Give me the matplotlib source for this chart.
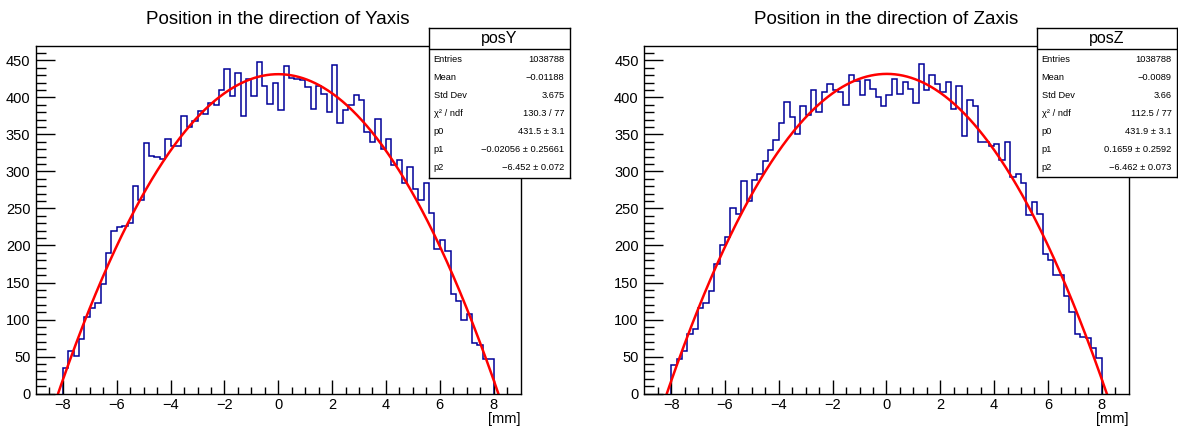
import matplotlib
matplotlib.use("Agg")
import matplotlib.pyplot as plt
import numpy as np

# Histogram binning: 80 bins of 0.2 mm between -8 and 8 mm
bin_edges = np.linspace(-8.0, 8.0, 81)

counts_y = [
    35, 58, 51, 73, 103, 116, 122, 148, 190, 220,
    225, 226, 231, 280, 262, 339, 321, 319, 317, 344,
    334, 334, 375, 360, 368, 382, 378, 393, 390, 410,
    438, 402, 433, 375, 425, 402, 448, 416, 391, 420,
    383, 443, 426, 425, 424, 414, 384, 415, 405, 380,
    444, 366, 383, 390, 404, 396, 354, 340, 371, 331,
    344, 309, 315, 284, 306, 277, 262, 285, 244, 195,
    208, 193, 135, 125, 100, 108, 68, 66, 47, 47,
]

counts_z = [
    38, 47, 58, 80, 87, 115, 122, 138, 175, 200,
    211, 251, 243, 287, 260, 289, 296, 314, 329, 343,
    365, 394, 373, 350, 389, 376, 410, 380, 408, 418,
    410, 407, 390, 430, 422, 404, 424, 412, 400, 389,
    403, 425, 405, 421, 412, 393, 445, 410, 431, 418,
    407, 421, 384, 415, 348, 396, 388, 340, 340, 334,
    337, 315, 340, 292, 296, 284, 241, 259, 243, 188,
    180, 160, 160, 132, 110, 80, 77, 75, 61, 48,
]

# Quadratic fit parameters p0 + p1*x + p2*x^2
fit_y = (431.5, -0.02056, -6.452)
fit_z = (431.9, 0.1659, -6.462)

titles = ["Position in the direction of Yaxis", "Position in the direction of Zaxis"]
stat_names = ["posY", "posZ"]
stat_labels = ["Entries", "Mean", "Std Dev", "\u03c7\u00b2 / ndf", "p0", "p1", "p2"]
stat_values_y = ["1038788", "\u22120.01188", "3.675", "130.3 / 77",
                 "431.5 \u00b1 3.1", "\u22120.02056 \u00b1 0.25661", "\u22126.452 \u00b1 0.072"]
stat_values_z = ["1038788", "\u22120.0089", "3.66", "112.5 / 77",
                 "431.9 \u00b1 3.1", "0.1659 \u00b1 0.2592", "\u22126.462 \u00b1 0.073"]

plt.rcParams["font.family"] = ["Liberation Sans", "DejaVu Sans"]

W, H = 1178, 426
fig = plt.figure(figsize=(W / 100, H / 100), dpi=100)

HIST_COLOR = "#000099"


def px_axes(x0, y0, x1, y1):
    return fig.add_axes([x0 / W, 1 - y1 / H, (x1 - x0) / W, (y1 - y0) / H])


def draw_panel(ax, counts, fit, title, name, values, box):
    ax.stairs(counts, bin_edges, baseline=0, color=HIST_COLOR, lw=1.1)
    xs = np.linspace(-9, 9, 600)
    p0, p1, p2 = fit
    ax.plot(xs, p0 + p1 * xs + p2 * xs ** 2, color="red", lw=1.8)
    ax.set_xlim(-9, 9)
    ax.set_ylim(0, 470)
    ax.set_xticks(np.arange(-8, 9, 2))
    ax.set_xticks(np.arange(-8.5, 9, 0.5), minor=True)
    ax.set_yticks(np.arange(0, 451, 50))
    ax.set_yticks(np.arange(0, 470, 10), minor=True)
    ax.tick_params(axis="both", which="both", direction="in", top=False, right=False,
                   labelsize=10.5, width=1, color="black")
    ax.tick_params(axis="y", which="major", length=14, pad=4)
    ax.tick_params(axis="y", which="minor", length=7)
    ax.tick_params(axis="x", which="major", length=10, pad=3)
    ax.tick_params(axis="x", which="minor", length=5)
    for s in ax.spines.values():
        s.set_linewidth(1)
    ax.text(1.0, -0.052, "[mm]", transform=ax.transAxes, ha="right", va="top", fontsize=10.5)
    bb = ax.get_position()
    fig.text(bb.x0 + bb.width / 2, 1 - 19 / H, title, ha="center", va="center", fontsize=13.5)

    # Statistics box
    x0, y0, x1, y1 = box
    sax = px_axes(x0, y0, x1, y1)
    sax.set_xlim(x0, x1)
    sax.set_ylim(y1, y0)
    sax.set_xticks([])
    sax.set_yticks([])
    sax.set_facecolor("white")
    for s in sax.spines.values():
        s.set_linewidth(1)
    sep = y0 + 21.5
    sax.axhline(sep, color="black", lw=1)
    sax.text((x0 + x1) / 2, (y0 + sep) / 2 + 0.5, name, ha="center", va="center", fontsize=11.5)
    rows = np.linspace(sep + 10, y1 - 10, len(stat_labels))
    for lab, val, ry in zip(stat_labels, values, rows):
        sax.text(x0 + 5, ry, lab, ha="left", va="center", fontsize=6.7)
        sax.text(x1 - 5, ry, val, ha="right", va="center", fontsize=6.7)


ax1 = px_axes(36, 45.7, 520.5, 393.5)
ax2 = px_axes(644.3, 45.7, 1128.6, 393.5)

draw_panel(ax1, counts_y, fit_y, titles[0], stat_names[0], stat_values_y, (428.5, 27.7, 569.5, 177.5))
draw_panel(ax2, counts_z, fit_z, titles[1], stat_names[1], stat_values_z, (1036.5, 27.7, 1176.5, 177.0))

fig.savefig("out.png", dpi=100)
